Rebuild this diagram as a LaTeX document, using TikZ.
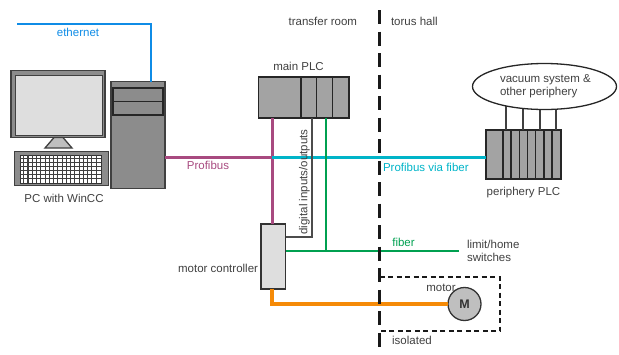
\documentclass[tikz,border=0pt]{standalone}
\usepackage{fontspec}
\setmainfont{Liberation Sans}
\usepackage{tikz}
\usetikzlibrary{shapes.geometric}

\tikzset{
  lbl/.style={inner sep=0pt,outer sep=0pt,font=\fontsize{11.5}{13}\selectfont,text=black!75},
  case/.style={draw=black!75,fill=black!45,line width=1.3pt,anchor=north west,inner sep=0pt,outer sep=0pt},
  plc/.style={draw=black!85,fill=black!36,line width=1.3pt,anchor=north west,inner sep=0pt,outer sep=0pt},
  wire/.style={draw=black!75,line width=1.3pt},
}

\begin{document}
\begin{tikzpicture}[x=1pt,y=-1pt]
\definecolor{eth}{HTML}{0F8CE6}
\definecolor{prof}{HTML}{A84A80}
\definecolor{fib}{HTML}{00B4C8}
\definecolor{grn}{HTML}{00A050}
\definecolor{orng}{HTML}{F58A07}
\useasboundingbox (0,0) rectangle (619,354);
% PC
\node[case,minimum width=94pt,minimum height=67pt] (monitor) at (11,70.5) {};
\node[draw=black!75,fill=black!13,line width=1.3pt,anchor=north west,inner sep=0pt,minimum width=87pt,minimum height=60pt] (screen) at (15,74.5) {};
\draw[draw=black!75,fill=black!25,line width=1.3pt] (54,137.5) -- (63,137.5) -- (72,148) -- (45,148) -- cycle;
\node[case,minimum width=94pt,minimum height=34pt] (keyboard) at (14.5,151.5) {};
\node[draw=black!80,fill=white,line width=1pt,anchor=north west,inner sep=0pt,minimum width=81pt,minimum height=28pt] (keys) at (19.5,154.5) {};
\foreach \i in {1,...,18} \draw[black!75,line width=1.1pt] (19.5+\i*4.26,154.5) -- (19.5+\i*4.26,182.5);
\foreach \i in {1,...,6} \draw[black!75,line width=1.1pt] (19.5,154.5+\i*4) -- (100.5,154.5+\i*4);
\node[case,minimum width=54pt,minimum height=107pt] (tower) at (111,81.5) {};
\node[case,draw=black!85,minimum width=50pt,minimum height=13.5pt] (bay1) at (113,88) {};
\node[case,draw=black!85,minimum width=50pt,minimum height=13.5pt] (bay2) at (113,101.5) {};
\node[lbl] (pclabel) at (64,198.5) {PC with WinCC};
% main PLC
\node[plc,minimum width=91pt,minimum height=41pt] (mainplc) at (258.5,77) {};
\node[plc,minimum width=15.5pt,minimum height=41pt] (slota) at (301,77) {};
\node[plc,minimum width=16pt,minimum height=41pt] (slotb) at (316.5,77) {};
\node[plc,minimum width=16.5pt,minimum height=41pt] (slotc) at (332.5,77) {};
\node[lbl] (mainlabel) at (298.5,66) {main PLC};
% periphery PLC
\node[plc,minimum width=75pt,minimum height=49pt] (perplc) at (486,130) {};
\foreach \x in {503,511,519.5,527.5,535.5,544,552}
  \draw[draw=black!85,line width=1.3pt] (\x,130) -- (\x,179);
\node[lbl] (perlabel) at (523.5,193) {periphery PLC};
\coordinate (pa) at (506,130); \coordinate (pb) at (523,130); \coordinate (pc) at (540,130); \coordinate (pd) at (556,130);
\coordinate (vmid) at (544.5,90);
\draw[wire] (pa) -- (pa |- vmid);
\draw[wire] (pb) -- (pb |- vmid);
\draw[wire] (pc) -- (pc |- vmid);
\draw[wire] (pd) -- (pd |- vmid);
\node[draw=black!85,fill=white,line width=1.3pt,ellipse,inner sep=0pt,outer sep=0pt,minimum width=144pt,minimum height=46pt] (vacuum) at (544.5,86.5) {};
\node[lbl,anchor=west,align=left] (vaclabel) at (500,86) {vacuum system \&\\other periphery};
% controller + motor
\node[draw=black!80,fill=black!13,line width=1.3pt,anchor=north west,inner sep=0pt,outer sep=0pt,minimum width=24.5pt,minimum height=65pt] (controller) at (261,224) {};
\node[lbl,anchor=east] (ctrllabel) at (258,268) {motor controller};
\node[circle,draw=black!80,fill=black!25,line width=1.3pt,inner sep=0pt,outer sep=0pt,minimum size=33pt,font=\fontsize{12.5}{13}\selectfont\bfseries,text=black!80] (motor) at (464.5,304) {M};
\node[lbl] (motorlabel) at (441,287.5) {motor};
% connections
\coordinate (ethend) at (17,24);
\coordinate (prtee) at (272,157);
\draw[eth,line width=1.5pt] (ethend) -- (ethend -| 151,0) -- (151,81.5);
\node[lbl,text=eth] (ethlabel) at (78,32) {ethernet};
\draw[prof,line width=3pt] (tower.east |- prtee) -- (prtee);
\draw[prof,line width=3pt] (mainplc.south -| prtee) -- (controller.north -| prtee);
\draw[fib,line width=3pt] (prtee) -- (perplc.west |- prtee);
\node[lbl,text=prof] (proflabel) at (208,165) {Profibus};
\node[lbl,text=fib,anchor=west] (fiblabel) at (383,167) {Profibus via fiber};
\coordinate (iob) at (312,118);
\draw[wire,black!70] (iob) -- (iob |- 0,237) -- (controller.east |- 0,237);
\node[lbl,rotate=90] (iolabel) at (304.5,182) {digital inputs/outputs};
\coordinate (fibb) at (326,118);
\coordinate (limit) at (459,251);
\draw[grn,line width=1.5pt] (fibb) -- (fibb |- limit);
\draw[grn,line width=1.5pt] (controller.east |- limit) -- (limit);
\node[lbl,text=grn] (grnlabel) at (403.5,242) {fiber};
\node[lbl,anchor=west,align=left] (limitlabel) at (467,251) {limit/home\\switches};
\coordinate (orngb) at (272,304);
\draw[orng,line width=4pt] (controller.south -| orngb) -- (orngb) -- (motor.west);
% rooms
\coordinate (walltop) at (379.5,10);
\coordinate (wallbot) at (379.5,354);
\draw[black!90,line width=3pt,dash pattern=on 14pt off 7.5pt] (walltop) -- (wallbot);
\draw[black!90,line width=1.5pt,dash pattern=on 5pt off 3.5pt] (wallbot |- 0,277) -- (500,277) -- (500,331) -- (380,331) -- (380,340);
\node[lbl,anchor=east] (roomleft) at (357,21) {transfer room};
\node[lbl,anchor=west] (roomright) at (391,21) {torus hall};
\node[lbl] (isolabel) at (412,340) {isolated};
\end{tikzpicture}
\end{document}
